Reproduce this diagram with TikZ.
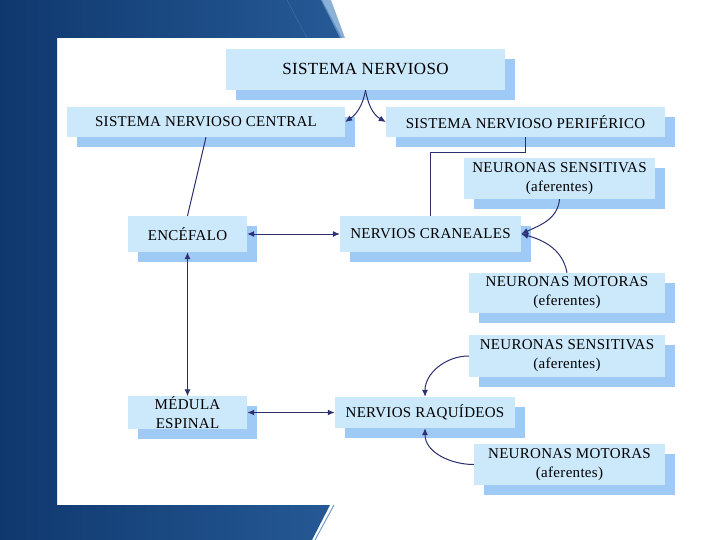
\documentclass[tikz,border=0pt]{standalone}
\usepackage{fontspec}
\setmainfont{Liberation Serif}[LetterSpace=2]
\usepackage{xcolor}
\usepackage{tikz}
\usetikzlibrary{positioning,shadows,arrows.meta}

\definecolor{boxblue}{RGB}{204,232,251}
\definecolor{shadeblue}{RGB}{158,202,245}
\definecolor{linkblue}{RGB}{44,47,110}
\definecolor{tipblue}{RGB}{45,55,135}
\definecolor{slidedark}{RGB}{15,56,110}
\definecolor{slidelight}{RGB}{38,90,150}
\definecolor{slidestreak}{RGB}{110,158,205}

\begin{document}
\begin{tikzpicture}[
  x=1pt, y=1pt,
  box/.style={rectangle, fill=boxblue, inner sep=0pt, align=center, text=black,
    font=\fontsize{15}{19}\selectfont,
    general shadow={fill=shadeblue, shadow xshift=10pt, shadow yshift=-10pt}},
  title/.style={box, font=\fontsize{17}{20}\selectfont},
  link/.style={draw=linkblue, line width=1pt},
  arrow/.style={link, -{Latex[length=7pt,width=6pt,fill=tipblue]}},
  bidiarrow/.style={link, {Latex[length=7pt,width=6pt,fill=tipblue]}-{Latex[length=7pt,width=6pt,fill=tipblue]}}
]
  % Slide background
  \useasboundingbox (0,0) rectangle (720,-540);
  \fill[white] (0,0) rectangle (720,-540);
  \shade[left color=slidedark, right color=slidelight]
    (0,0) -- (322,0) -- (342,-38) -- (57,-38) -- (57,-505) -- (330,-505) -- (312,-540) -- (0,-540) -- cycle;
  \fill[slidestreak, opacity=0.8] (321,0) -- (331,0) -- (345,-38) -- (340,-38) -- cycle;
  \draw[slidestreak, opacity=0.4] (287,0) -- (307,-38);
  \draw[slidestreak, line width=1pt] (334,-505) -- (315,-540);

  % Main components
  \node[title, minimum width=279pt, minimum height=41pt] (sn) at (365.5,-69.5) {SISTEMA NERVIOSO};
  \node[box, minimum width=278pt, minimum height=30pt] (snc) at (206,-122) {SISTEMA NERVIOSO CENTRAL};
  \node[box, minimum width=279pt, minimum height=30pt] (snp) at (525.5,-122) {SISTEMA NERVIOSO PERIFÉRICO};
  \node[box, minimum width=119pt, minimum height=36pt] (enc) at (187.5,-234) {ENCÉFALO};
  \node[box, minimum width=181pt, minimum height=36pt] (cran) at (430.5,-234) {NERVIOS CRANEALES};
  \node[box, minimum width=119pt, minimum height=31pt] (med) at (187.5,-412.5) {MÉDULA\\ESPINAL};
  \node[box, minimum width=180pt, minimum height=31pt] (raq) at (425,-412.5) {NERVIOS RAQUÍDEOS};

  % Neurons
  \node[box, minimum width=191pt, minimum height=41pt] (sens1) at (559.5,-178.5) {NEURONAS SENSITIVAS\\(aferentes)};
  \node[box, minimum width=196pt, minimum height=40pt] (mot1) at (567,-293) {NEURONAS MOTORAS\\(eferentes)};
  \node[box, minimum width=196pt, minimum height=42pt] (sens2) at (567,-356) {NEURONAS SENSITIVAS\\(aferentes)};
  \node[box, minimum width=191pt, minimum height=41pt] (mot2) at (569.5,-464.5) {NEURONAS MOTORAS\\(aferentes)};

  % Connections
  \draw[arrow] (sn.south) to[out=-100,in=35] (snc.east);
  \draw[arrow] (sn.south) to[out=-80,in=150] (snp.west);
  \draw[link] (snc.south) -- (enc.north);
  \draw[link] (snp.south) -- ++(0,-15) -| (cran.north);
  \draw[bidiarrow] (enc.east) -- (cran.west);
  \draw[bidiarrow] (enc.south) -- (med.north);
  \draw[bidiarrow, line width=1.6pt] (med.east) -- (raq.west);
  \draw[arrow] (sens1.south) to[out=-95,in=25] (cran.east);
  \draw[arrow] (mot1.north) to[out=100,in=-15] (cran.east);
  \draw[arrow] (sens2.west) to[out=180,in=90] (raq.north);
  \draw[arrow] (mot2.west) to[out=180,in=-90] (raq.south);
\end{tikzpicture}
\end{document}
